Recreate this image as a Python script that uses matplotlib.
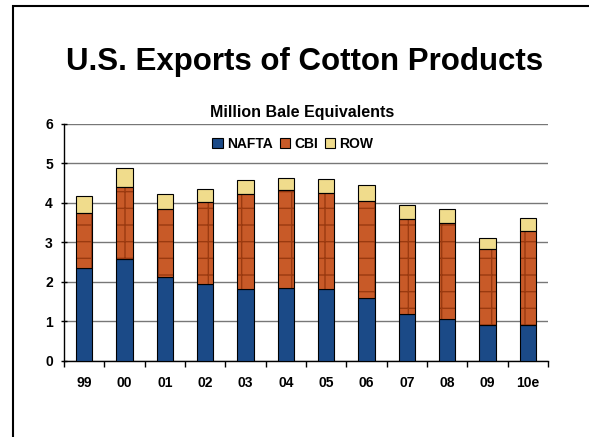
import numpy as np
import matplotlib
matplotlib.use('Agg')
import matplotlib.pyplot as plt
from matplotlib.patches import Rectangle, Patch

plt.rcParams['font.family'] = ['Liberation Sans', 'DejaVu Sans']
plt.rcParams['font.weight'] = 'bold'

years = ['99', '00', '01', '02', '03', '04', '05', '06', '07', '08', '09', '10e']
nafta = [2.36, 2.58, 2.11, 1.94, 1.81, 1.84, 1.81, 1.58, 1.18, 1.05, 0.91, 0.90]
cbi = [1.37, 1.81, 1.72, 2.08, 2.42, 2.47, 2.44, 2.47, 2.41, 2.43, 1.91, 2.39]
row = [0.44, 0.48, 0.38, 0.33, 0.34, 0.32, 0.35, 0.40, 0.34, 0.37, 0.29, 0.33]

c_nafta = '#1B4A87'
c_cbi = '#C85A28'
c_row = '#F0DC8C'

fig = plt.figure(figsize=(5.89, 4.37), dpi=100)

# slide frame (cut off at right and bottom)
fig.patches.append(Rectangle((13 / 589, -0.1), 1.2, 1 - 6 / 437 + 0.1,
                             transform=fig.transFigure, fill=False,
                             edgecolor='black', linewidth=1.5))

fig.text(305 / 589, 1 - 62 / 437, 'U.S. Exports of Cotton Products',
         ha='center', va='center', fontsize=22.5, fontweight='bold')

ax = fig.add_axes([64 / 589, 1 - 361 / 437, 484 / 589, 237.5 / 437])

x = np.arange(len(years))
w = 0.41
nafta = np.array(nafta)
cbi = np.array(cbi)
row = np.array(row)

ax.bar(x, nafta, w, color=c_nafta, edgecolor='black', linewidth=0.8, zorder=3)
ax.bar(x, cbi, w, bottom=nafta, color=c_cbi, edgecolor='#9A3A10',
       linewidth=0, hatch='+', zorder=3)
ax.bar(x, cbi, w, bottom=nafta, fill=False, edgecolor='black',
       linewidth=0.8, zorder=4)
ax.bar(x, row, w, bottom=nafta + cbi, color=c_row, edgecolor='black',
       linewidth=0.8, zorder=3)

ax.set_xlim(-0.5, len(years) - 0.5)
ax.set_ylim(0, 6)
ax.set_yticks(range(7))
ax.yaxis.grid(True, color='#777777', linewidth=1)
ax.set_axisbelow(True)

for s in ['top', 'right']:
    ax.spines[s].set_visible(False)
ax.spines['left'].set_linewidth(1)
ax.spines['bottom'].set_linewidth(1)

ax.set_xticks(x)
ax.set_xticklabels(years, fontsize=10, fontweight='bold')
ax.tick_params(axis='x', which='major', length=0, pad=11)
ax.set_xticks(np.arange(len(years) + 1) - 0.5, minor=True)
ax.tick_params(axis='x', which='minor', length=4, direction='out', width=1)
ax.tick_params(axis='y', length=4, direction='inout', width=1,
               labelsize=10, pad=6)
for lab in ax.get_yticklabels():
    lab.set_fontweight('bold')

fig.text(302 / 589, 1 - 112 / 437, 'Million Bale Equivalents',
         ha='center', va='center', fontsize=11.5, fontweight='bold')

handles = [Patch(facecolor=c_nafta, edgecolor='black', linewidth=0.8),
           Patch(facecolor=c_cbi, edgecolor='black', linewidth=0.8),
           Patch(facecolor=c_row, edgecolor='black', linewidth=0.8)]
ax.legend(handles, ['NAFTA', 'CBI', 'ROW'], ncol=3, frameon=False,
          loc='center', bbox_to_anchor=((293 - 64) / 484, 1 - 20 / 237.5),
          handlelength=0.75, handleheight=0.75, handletextpad=0.3,
          columnspacing=0.5, prop={'weight': 'bold', 'size': 10})

fig.savefig('out.png', dpi=100)
